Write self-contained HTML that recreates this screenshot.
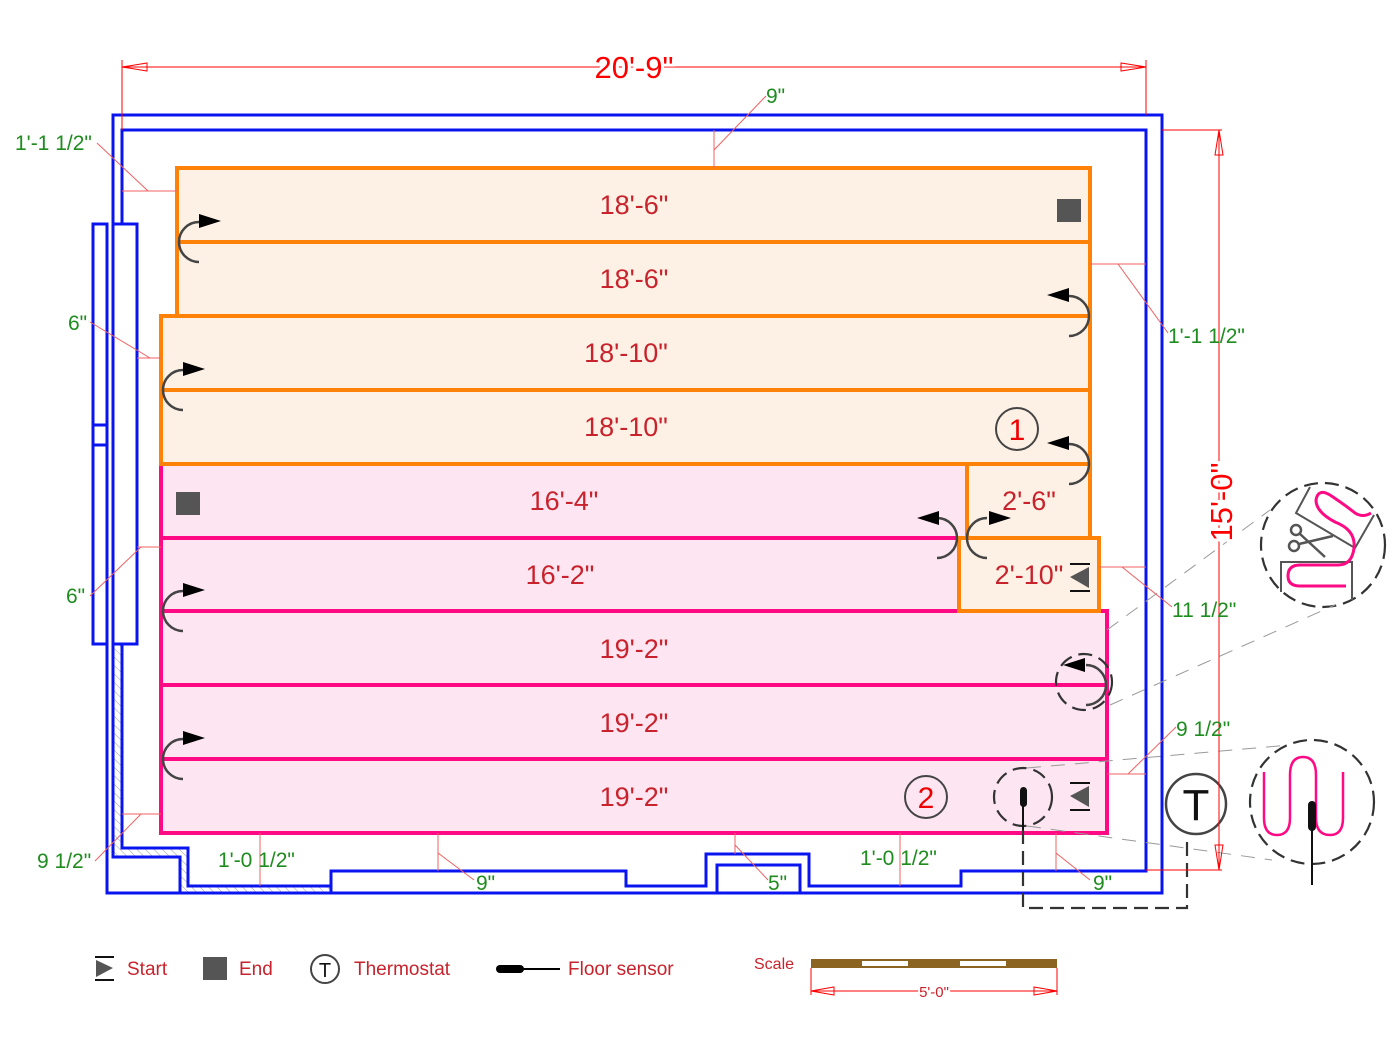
<!DOCTYPE html>
<html><head><meta charset="utf-8"><style>
html,body{margin:0;padding:0;background:#fff}
svg{display:block}
text{font-family:"Liberation Sans",sans-serif}
</style></head><body>
<svg width="1400" height="1049" viewBox="0 0 1400 1049" xmlns="http://www.w3.org/2000/svg">
<defs>
<pattern id="hatch" width="6" height="6" patternUnits="userSpaceOnUse" patternTransform="rotate(-45)">
<line x1="0" y1="0" x2="0" y2="6" stroke="#888" stroke-width="0.8"/></pattern>
</defs>
<path d="M113,644 L122,644 L122,848 L188,848 L188,886 L331,886 L331,893 L180,893 L180,857 L113,857 Z" fill="url(#hatch)"/>
<g fill="none" stroke="#0a14f0" stroke-width="3">
<path d="M113,224 L113,115 L1162,115 L1162,893 L107,893 L107,644"/>
<path d="M122,224 L122,130 L1146,130 L1146,871 L961,871 L961,886 L809,886 L809,854 L706,854 L706,886 L626,886 L626,871 L331,871 L331,893"/>
<path d="M331,886 L188,886 L188,848 L122,848 L122,644"/>
<path d="M113,644 L113,857 L180,857 L180,893"/>
<path d="M626,886 L706,886 M717,893 L717,865 L800,865 L800,893"/>
<rect x="93" y="224" width="14" height="420"/>
<line x1="93" y1="425" x2="107" y2="425"/><line x1="93" y1="445" x2="107" y2="445"/>
<rect x="113" y="224" width="24" height="420"/>
</g>
<g stroke-width="4">
<g fill="#fde5f1" stroke="#ff0a84">
<rect x="161" y="464" width="806" height="74"/>
<rect x="161" y="538" width="798" height="73"/>
<rect x="161" y="611" width="946" height="74"/>
<rect x="161" y="685" width="946" height="74"/>
<rect x="161" y="759" width="946" height="74"/>
</g>
<g fill="#fdf1e5" stroke="#ff8208">
<rect x="177" y="168" width="913" height="74"/>
<rect x="177" y="242" width="913" height="74"/>
<rect x="161" y="316" width="929" height="74"/>
<rect x="161" y="390" width="929" height="74"/>
<rect x="967" y="464" width="123" height="74"/>
<rect x="959" y="538" width="140" height="73"/>
</g>
</g>
<g fill="#c8232c" font-size="27" text-anchor="middle">
<text x="634" y="214">18'-6"</text>
<text x="634" y="288">18'-6"</text>
<text x="626" y="362">18'-10"</text>
<text x="626" y="436">18'-10"</text>
<text x="564" y="510">16'-4"</text>
<text x="560" y="584">16'-2"</text>
<text x="634" y="658">19'-2"</text>
<text x="634" y="732">19'-2"</text>
<text x="634" y="806">19'-2"</text>
<text x="1029" y="510">2'-6"</text>
<text x="1029" y="584">2'-10"</text>
</g>
<g fill="none" stroke="#444" stroke-width="2">
<circle cx="1017" cy="429" r="21"/><circle cx="926" cy="797" r="21"/>
</g>
<text x="1017" y="440" fill="#e00" font-size="30" text-anchor="middle">1</text>
<text x="926" y="808" fill="#e00" font-size="30" text-anchor="middle">2</text>
<rect x="1057" y="199" width="24" height="23" fill="#555"/>
<rect x="176" y="492" width="24" height="23" fill="#555"/>
<g fill="#555" stroke="#111" stroke-width="2">
<line x1="1070" y1="564" x2="1090" y2="564"/><line x1="1070" y1="591" x2="1090" y2="591"/>
<polygon points="1089,567 1089,588 1070,577" stroke="none"/>
<line x1="1070" y1="783" x2="1090" y2="783"/><line x1="1070" y1="810" x2="1090" y2="810"/>
<polygon points="1089,786 1089,807 1070,796" stroke="none"/>
</g>
<g fill="none" stroke="#444" stroke-width="2.5">
<path d="M199,262 A20,20 0 0 1 199,222"/>
<path d="M183,410 A20,20 0 0 1 183,370"/>
<path d="M183,631 A20,20 0 0 1 183,591"/>
<path d="M183,779 A20,20 0 0 1 183,739"/>
<path d="M1069,296 A20,20 0 0 1 1069,336"/>
<path d="M1069,444 A20,20 0 0 1 1069,484"/>
<path d="M937,518 A20,20 0 0 1 937,558"/>
<path d="M987,558 A20,20 0 0 1 987,518"/>
<path d="M1086,665 A20,20 0 0 1 1086,705"/>
</g>
<g fill="#000">
<polygon points="199,214 221,221 199,228"/>
<polygon points="183,362 205,369 183,376"/>
<polygon points="183,583 205,590 183,597"/>
<polygon points="183,731 205,738 183,745"/>
<polygon points="1069,288 1047,295 1069,302"/>
<polygon points="1069,436 1047,443 1069,450"/>
<polygon points="939,511 917,518 939,525"/>
<polygon points="989,511 1011,518 989,525"/>
<polygon points="1085,658 1063,665 1085,672"/>
</g>
<g fill="none" stroke="#333" stroke-width="2.2" stroke-dasharray="14,7">
<circle cx="1084" cy="682" r="28"/>
<circle cx="1023" cy="797" r="29"/>
<circle cx="1323" cy="545" r="62"/>
<circle cx="1312" cy="802" r="62"/>
<path d="M1023,830 L1023,908 L1187,908 L1187,840"/>
</g>
<g stroke="#999" stroke-width="1" stroke-dasharray="14,10">
<line x1="1107" y1="630" x2="1270" y2="510"/>
<line x1="1110" y1="705" x2="1335" y2="605"/>
<line x1="1027" y1="768" x2="1290" y2="745"/>
<line x1="1027" y1="826" x2="1272" y2="860"/>
</g>
<line x1="1023" y1="797" x2="1023" y2="830" stroke="#111" stroke-width="2"/>
<rect x="1020" y="787" width="7" height="20" rx="3.5" fill="#111"/>
<circle cx="1196" cy="804" r="30" fill="none" stroke="#444" stroke-width="2.5"/>
<text x="1196" y="820" font-size="44" text-anchor="middle" fill="#111">T</text>
<!-- detail 1 -->
<g fill="none" stroke="#555" stroke-width="2">
<path d="M1281,592 L1281,562 L1352,562 L1352,600"/>
<path d="M1310,487 L1296,513 L1355,548 L1374,515"/>
</g>
<path d="M1346,586 L1300,586 Q1288,586 1288,576 Q1288,565 1300,565 L1338,565 Q1352,565 1354,548 Q1356,530 1335,522 Q1316,512 1316,500 Q1318,488 1330,495 Q1345,505 1355,513 Q1363,518 1371,513" fill="none" stroke="#ff0a84" stroke-width="3"/>
<g stroke="#555" stroke-width="2.5" fill="none">
<circle cx="1296" cy="530" r="5"/><circle cx="1294" cy="546" r="5"/>
<line x1="1300" y1="534" x2="1325" y2="557"/><line x1="1299" y1="544" x2="1333" y2="536"/>
</g>
<!-- detail 2 -->
<path d="M1264,772 L1264,818 Q1264,835 1277,835 Q1290,835 1290,818 L1290,775 Q1290,757 1303,757 Q1316,757 1316,775 L1316,818 Q1316,835 1330,835 Q1343,835 1343,818 L1343,772" fill="none" stroke="#ff0a84" stroke-width="2.5"/>
<line x1="1312" y1="805" x2="1312" y2="885" stroke="#111" stroke-width="2"/>
<rect x="1308" y="801" width="8" height="30" rx="4" fill="#111"/>
<g stroke="#f00" stroke-width="1" fill="none">
<line x1="122" y1="67" x2="1146" y2="67"/>
<line x1="122" y1="60" x2="122" y2="130"/><line x1="1146" y1="60" x2="1146" y2="115"/>
<polygon points="122,67 147,63 147,71"/><polygon points="1146,67 1121,63 1121,71"/>
<line x1="1219" y1="130" x2="1219" y2="870"/>
<line x1="1162" y1="130" x2="1222" y2="130"/><line x1="1146" y1="870" x2="1222" y2="870"/>
<polygon points="1219,130 1215,155 1223,155"/><polygon points="1219,870 1215,845 1223,845"/>
</g>
<g stroke="#f06060" stroke-width="1" fill="none">
<line x1="122" y1="191" x2="177" y2="191"/><line x1="148" y1="191" x2="97" y2="143"/>
<line x1="714" y1="130" x2="714" y2="168"/><line x1="714" y1="150" x2="766" y2="96"/>
<line x1="137" y1="358" x2="161" y2="358"/><line x1="150" y1="358" x2="90" y2="322"/>
<line x1="137" y1="547" x2="161" y2="547"/><line x1="141" y1="547" x2="90" y2="596"/>
<line x1="122" y1="814" x2="161" y2="814"/><line x1="141" y1="814" x2="95" y2="861"/>
<line x1="1090" y1="264" x2="1146" y2="264"/><line x1="1118" y1="264" x2="1168" y2="333"/>
<line x1="1099" y1="567" x2="1146" y2="567"/><line x1="1122" y1="567" x2="1172" y2="607"/>
<line x1="1107" y1="774" x2="1146" y2="774"/><line x1="1128" y1="774" x2="1176" y2="727"/>
<line x1="260" y1="833" x2="260" y2="886"/>
<line x1="438" y1="833" x2="438" y2="871"/><line x1="438" y1="853" x2="474" y2="880"/>
<line x1="735" y1="833" x2="735" y2="854"/><line x1="735" y1="845" x2="768" y2="880"/>
<line x1="900" y1="833" x2="900" y2="886"/>
<line x1="1056" y1="833" x2="1056" y2="871"/><line x1="1056" y1="853" x2="1090" y2="880"/>
</g>
<text x="634" y="78" font-size="31" fill="#f00" text-anchor="middle" style="paint-order:stroke" stroke="#fff" stroke-width="6">20'-9"</text>
<text transform="translate(1232,502) rotate(-90)" font-size="31" fill="#f00" text-anchor="middle" style="paint-order:stroke" stroke="#fff" stroke-width="6">15'-0"</text>
<g fill="#1e8c1e" font-size="21">
<text x="15" y="150">1'-1 1/2"</text>
<text x="766" y="103">9"</text>
<text x="68" y="330">6"</text>
<text x="66" y="603">6"</text>
<text x="37" y="868">9 1/2"</text>
<text x="1168" y="343">1'-1 1/2"</text>
<text x="1172" y="617">11 1/2"</text>
<text x="1176" y="736">9 1/2"</text>
<text x="218" y="867">1'-0 1/2"</text>
<text x="476" y="890">9"</text>
<text x="768" y="890">5"</text>
<text x="860" y="865">1'-0 1/2"</text>
<text x="1093" y="890">9"</text>
</g>
<g stroke="#111" stroke-width="2"><line x1="95" y1="957" x2="114" y2="957"/><line x1="95" y1="980" x2="114" y2="980"/></g>
<polygon points="96,960 96,977 113,968" fill="#555"/>
<text x="127" y="975" font-size="19" fill="#c8232c">Start</text>
<rect x="203" y="957" width="24" height="23" fill="#555"/>
<text x="239" y="975" font-size="19" fill="#c8232c">End</text>
<circle cx="325" cy="969" r="14" fill="none" stroke="#444" stroke-width="2"/>
<text x="325" y="977" font-size="20" text-anchor="middle" fill="#111">T</text>
<text x="354" y="975" font-size="19" fill="#c8232c">Thermostat</text>
<rect x="496" y="965" width="28" height="8" rx="4" fill="#000"/>
<line x1="520" y1="969" x2="560" y2="969" stroke="#000" stroke-width="2"/>
<text x="568" y="975" font-size="19" fill="#c8232c">Floor sensor</text>
<text x="754" y="969" font-size="16" fill="#c8232c">Scale</text>
<rect x="811" y="959" width="246" height="9" fill="#8a6420"/>
<rect x="862" y="961" width="46" height="5" fill="#fff"/><rect x="960" y="961" width="46" height="5" fill="#fff"/>
<g stroke="#f00" stroke-width="1" fill="none">
<line x1="811" y1="991" x2="1057" y2="991"/><line x1="811" y1="968" x2="811" y2="995"/><line x1="1057" y1="968" x2="1057" y2="995"/>
<polygon points="811,991 834,987 834,995"/><polygon points="1057,991 1034,987 1034,995"/>
</g>
<text x="934" y="997" font-size="15" fill="#c8232c" text-anchor="middle" stroke="#fff" stroke-width="4" style="paint-order:stroke">5'-0"</text>
</svg>
</body></html>
